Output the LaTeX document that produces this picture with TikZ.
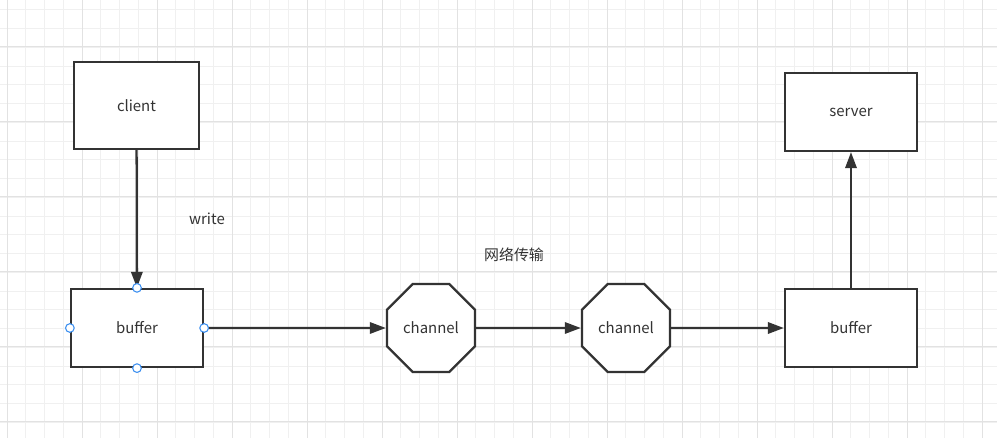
\documentclass[tikz,border=0pt]{standalone}
\usepackage{fontspec}
\setmainfont{Noto Sans CJK SC}
\usetikzlibrary{positioning,shapes.geometric,arrows.meta}
\definecolor{ink}{HTML}{333333}
\definecolor{gridminor}{HTML}{F0F0F0}
\definecolor{gridmajor}{HTML}{E2E2E2}
\definecolor{handleblue}{HTML}{3A8EF0}

\begin{document}
\begin{tikzpicture}[x=0.75pt, y=-0.75pt,
    font=\fontsize{11.2}{13}\selectfont, text=ink,
    box/.style={draw=ink, line width=1.7pt, fill=white, inner sep=0pt},
    octa/.style={regular polygon, regular polygon sides=8, draw=ink, line width=1.7pt,
                 fill=white, inner sep=0pt, minimum size=71.5pt},
    handle/.style={circle, draw=handleblue, fill=white, line width=0.8pt,
                   inner sep=0pt, minimum size=6.5pt},
    link/.style={draw=ink, line width=1.7pt, -{Triangle[length=12pt, width=8.5pt]}}]
      \useasboundingbox (0,0) rectangle (997,438);
      \fill [white] (0,0) rectangle (997,438);
      % background grid
      \foreach \gx in {0,...,53} \draw [gridminor, line width=0.75pt] (7+18.75*\gx,0) -- (7+18.75*\gx,438);
      \foreach \gy in {0,...,23} \draw [gridminor, line width=0.75pt] (0,10+18.75*\gy) -- (997,10+18.75*\gy);
      \foreach \gx in {0,...,13} \draw [gridmajor, line width=0.75pt] (7+75*\gx,0) -- (7+75*\gx,438);
      \foreach \gy in {0,...,5} \draw [gridmajor, line width=0.75pt] (0,47+75*\gy) -- (997,47+75*\gy);
      % nodes
      \node [box, minimum width=93.75pt, minimum height=65.25pt] (cl)  at (136.5, 105.5) {client};
      \node [box, minimum width=99pt,    minimum height=58.5pt]  (bf1) at (137.0, 328.0) {buffer};
      \node [octa]                                               (ch1) at (431.0, 328.0) {channel};
      \node [octa]                                               (ch2) at (626.0, 328.0) {channel};
      \node [box, minimum width=99pt,    minimum height=58.5pt]  (bf2) at (851.0, 328.0) {buffer};
      \node [box, minimum width=99pt,    minimum height=58.5pt]  (sv)  at (851.0, 112.0) {server};
      \node                                                      (wr)  at (207.0, 219.0) {write};
      \node                                                      (net) at (514.0, 255.0) {网络传输};
      % connectors
      \draw [link] (cl)  -- (bf1);
      \draw [link] (bf1) -- (ch1);
      \draw [link] (ch1) -- (ch2);
      \draw [link] (ch2) -- (bf2);
      \draw [link] (bf2) -- (sv);
      % selection handles
      \node [handle] (hn) at (bf1.north) {};
      \node [handle] (hs) at (bf1.south) {};
      \node [handle] (hw) at (bf1.west)  {};
      \node [handle] (he) at (bf1.east)  {};
\end{tikzpicture}
\end{document}
